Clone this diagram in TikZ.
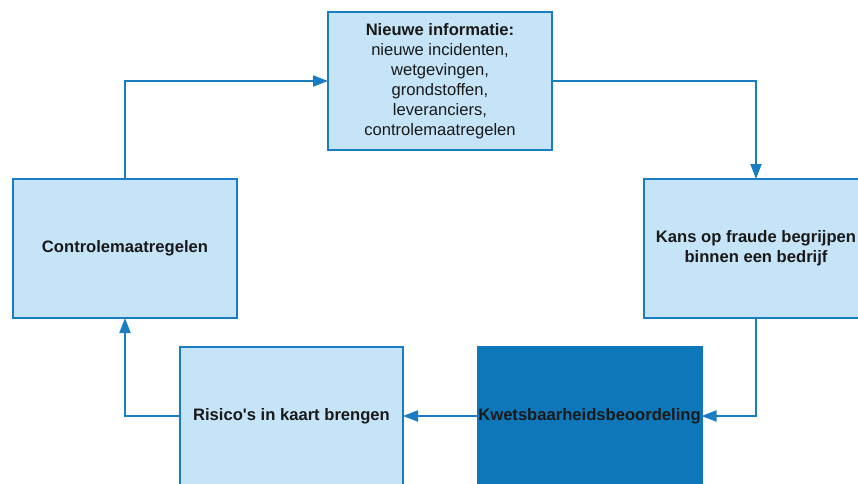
\documentclass[tikz,border=0pt]{standalone}
\usepackage{fontspec}
\setmainfont{Liberation Sans}[Ligatures=TeXOff]
\usetikzlibrary{arrows.meta}
\definecolor{boxfill}{HTML}{C5E4F7}
\definecolor{boxline}{HTML}{1A7CC1}
\definecolor{darkfill}{HTML}{0E77BA}
\tikzset{
  stagebox/.style={draw=boxline, fill=boxfill, line width=2pt, inner sep=0pt, outer sep=0pt,
    minimum width=224pt, minimum height=139pt, align=center, text=black!90,
    font=\fontsize{16.6}{20}\selectfont},
  keybox/.style={stagebox, fill=darkfill, draw=darkfill},
  flow/.style={draw=boxline, line width=2pt, -{Triangle[length=15pt,width=11pt]}}
}
\begin{document}
\begin{tikzpicture}[x=1pt,y=-1pt]
  \useasboundingbox (0,0) rectangle (858,483);
  \clip (0,0) rectangle (858,483);
  \fill[white] (0,0) rectangle (858,483);

  \node[stagebox, minimum height=138pt] (info) at (440,81)
    {\textbf{Nieuwe informatie:}\\nieuwe incidenten,\\wetgevingen,\\grondstoffen,\\leveranciers,\\controlemaatregelen};
  \node[stagebox] (kans) at (756,248.5)
    {\textbf{Kans op fraude begrijpen}\\\textbf{binnen een bedrijf}};
  \node[keybox] (kwets) at (589.5,416)
    {\textbf{Kwetsbaarheidsbeoordeling}};
  \node[stagebox, minimum width=223pt] (risico) at (291.5,416)
    {\textbf{Risico's in kaart brengen}};
  \node[stagebox] (control) at (125,248.5)
    {\textbf{Controlemaatregelen}};

  \draw[flow] (control.north) |- (info.west);
  \draw[flow] (info.east) -| (kans.north);
  \draw[flow] (kans.south) |- (kwets.east);
  \draw[flow] (kwets.west) -- (risico.east);
  \draw[flow] (risico.west) -| (control.south);
\end{tikzpicture}
\end{document}
